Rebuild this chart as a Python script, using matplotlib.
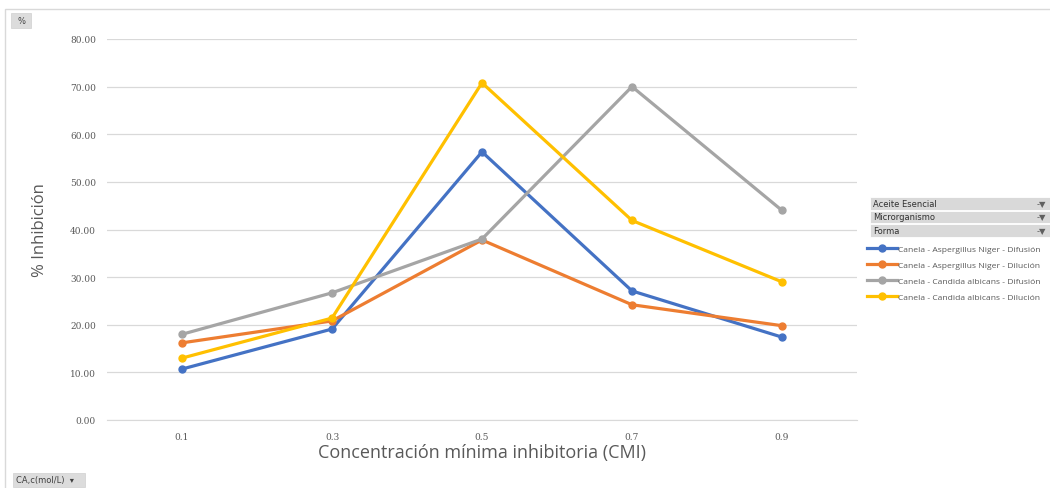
import matplotlib
matplotlib.use('Agg')
import matplotlib.pyplot as plt
from matplotlib.patches import Rectangle

# % inhibicion de canela frente a dos microorganismos, por concentracion
cmi = ["0.1", "0.3", "0.5", "0.7", "0.9"]
an_difusion = [10.7, 19.1, 56.3, 27.1, 17.4]
an_dilucion = [16.2, 20.8, 37.8, 24.2, 19.8]
ca_difusion = [18.0, 26.7, 38.0, 70.0, 44.0]
ca_dilucion = [13.0, 21.4, 70.8, 41.9, 29.0]

series = [
    ("Canela - Aspergillus Niger - Difusión", an_difusion, "#4472C4"),
    ("Canela - Aspergillus Niger - Dilución", an_dilucion, "#ED7D31"),
    ("Canela - Candida albicans - Difusión", ca_difusion, "#A5A5A5"),
    ("Canela - Candida albicans - Dilución", ca_dilucion, "#FFC000"),
]
filtros = ["Aceite Esencial", "Microrganismo", "Forma"]

W, H = 1050, 489
fig = plt.figure(figsize=(W / 100, H / 100), dpi=100)
ax = fig.add_axes([107 / W, 1 - 421 / H, 750 / W, 381 / H])

x = list(range(len(cmi)))
handles = []
for name, vals, col in series:
    h, = ax.plot(x, vals, color=col, lw=2.3, marker='o', ms=5, label=name,
                 solid_joinstyle='round')
    handles.append(h)

ax.set_xlim(-0.5, len(cmi) - 0.5)
ax.set_ylim(0, 80)
ax.set_yticks(range(0, 81, 10))
ax.set_yticklabels([f"{v:.2f}" for v in range(0, 81, 10)])
ax.set_xticks(x)
ax.set_xticklabels(cmi)
ax.grid(axis='y', color='#d9d9d9', lw=0.9)
ax.set_axisbelow(True)
for s in ['top', 'right', 'left']:
    ax.spines[s].set_visible(False)
ax.spines['bottom'].set_color('#d9d9d9')
ax.tick_params(axis='y', length=0, labelsize=6.5, labelcolor='#595959', pad=8)
ax.tick_params(axis='x', length=0, labelsize=6.5, labelcolor='#595959', pad=9)
for t in ax.get_xticklabels() + ax.get_yticklabels():
    t.set_family('DejaVu Serif')
ax.set_ylabel("% Inhibición", fontsize=12, color='#595959', family='Open Sans', labelpad=16)
ax.set_xlabel("Concentración mínima inhibitoria (CMI)", fontsize=13, color='#595959',
              family='Open Sans', labelpad=1)

# marco del grafico
fig.patches.append(Rectangle((5 / W, -0.1), 1.1, 1 - 10 / H + 0.1, transform=fig.transFigure,
                             fill=False, ec='#d9d9d9', lw=1))

# botones de campo
fig.patches.append(Rectangle((11 / W, 1 - 29 / H), 20 / W, 15 / H, transform=fig.transFigure,
                             fc='#dcdcdc', ec='#cfcfcf', lw=0.5))
fig.text(21 / W, 1 - 21.5 / H, "%", fontsize=6, color='#404040', ha='center', va='center')
fig.patches.append(Rectangle((13 / W, 1 - 488 / H), 72 / W, 14 / H, transform=fig.transFigure,
                             fc='#dcdcdc', ec='#cfcfcf', lw=0.5))
fig.text(16 / W, 1 - 481 / H, "CA,c(mol/L)  ▾", fontsize=6, color='#404040', va='center')

# encabezados de filtro
for i, f in enumerate(filtros):
    y0 = 198 + i * 13.5
    fig.patches.append(Rectangle((870 / W, 1 - (y0 + 12.5) / H), 180 / W, 12.5 / H,
                                 transform=fig.transFigure, fc='#d9d9d9', ec='white', lw=0.6))
    fig.text(873 / W, 1 - (y0 + 6.2) / H, f, fontsize=6, color='#303030', va='center')
    fig.text(1046 / W, 1 - (y0 + 6.2) / H, "-▼", fontsize=6, color='#606060',
             va='center', ha='right')

fig.legend(handles=handles, loc='upper left', bbox_to_anchor=(867 / W, 1 - 246 / H),
           frameon=False, labelcolor='#595959', handlelength=3.5,
           handletextpad=0.1, labelspacing=0.95, borderaxespad=0, borderpad=0,
           prop={'family': 'Open Sans', 'size': 6.1})

fig.savefig("out.png", dpi=100, facecolor='white')
